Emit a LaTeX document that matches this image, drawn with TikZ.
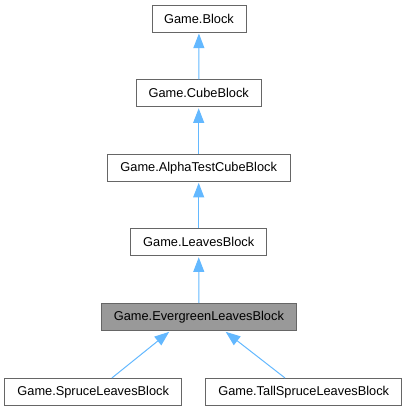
\documentclass[tikz,border=0pt]{standalone}
\usepackage{fontspec}
\setmainfont{Liberation Sans}
\usepackage{tikz}
\usetikzlibrary{calc,arrows.meta}

\definecolor{edgeblue}{HTML}{63B8FF}
\definecolor{boxgray}{HTML}{666666}
\definecolor{curgray}{HTML}{999999}

\tikzset{
    cls/.style={draw=boxgray, fill=white, line width=0.75pt, inner sep=0pt,
        minimum height=20.25pt, font=\fontsize{9.6}{11}\selectfont},
    cur/.style={cls, fill=curgray},
    inh/.style={draw=edgeblue, line width=0.75pt,
        -{Triangle[length=11pt,width=8.25pt]}, shorten >=0.75pt}
}

\begin{document}
\begin{tikzpicture}[x=0.75pt,y=-0.75pt]
        \useasboundingbox (0,0) rectangle (408,411);
        \node[cls, minimum width=70.5pt] (block) at (199,18.5) {Game.Block};
        \node[cls, minimum width=93.5pt] (cube) at (198.7,93.3) {Game.CubeBlock};
        \node[cls, minimum width=137pt] (alpha) at (198.7,167.8) {Game.AlphaTestCubeBlock};
        \node[cls, minimum width=102pt] (leaves) at (198.7,242.3) {Game.LeavesBlock};
        \node[cur, minimum width=145.7pt] (ever) at (198.9,317.2) {Game.EvergreenLeavesBlock};
        \node[cls, minimum width=132.7pt] (spruce) at (93.2,392) {Game.SpruceLeavesBlock};
        \node[cls, minimum width=147pt] (tall) at (303.7,392) {Game.TallSpruceLeavesBlock};
        \draw[inh] (cube) -- (block);
        \draw[inh] (alpha) -- (cube);
        \draw[inh] (leaves) -- (alpha);
        \draw[inh] (ever) -- (leaves);
        \draw[inh] ([xshift=14pt]spruce.north) -- ([xshift=-21.7pt]ever.south);
        \draw[inh] ([xshift=-14pt]tall.north) -- ([xshift=19.5pt]ever.south);
\end{tikzpicture}
\end{document}
